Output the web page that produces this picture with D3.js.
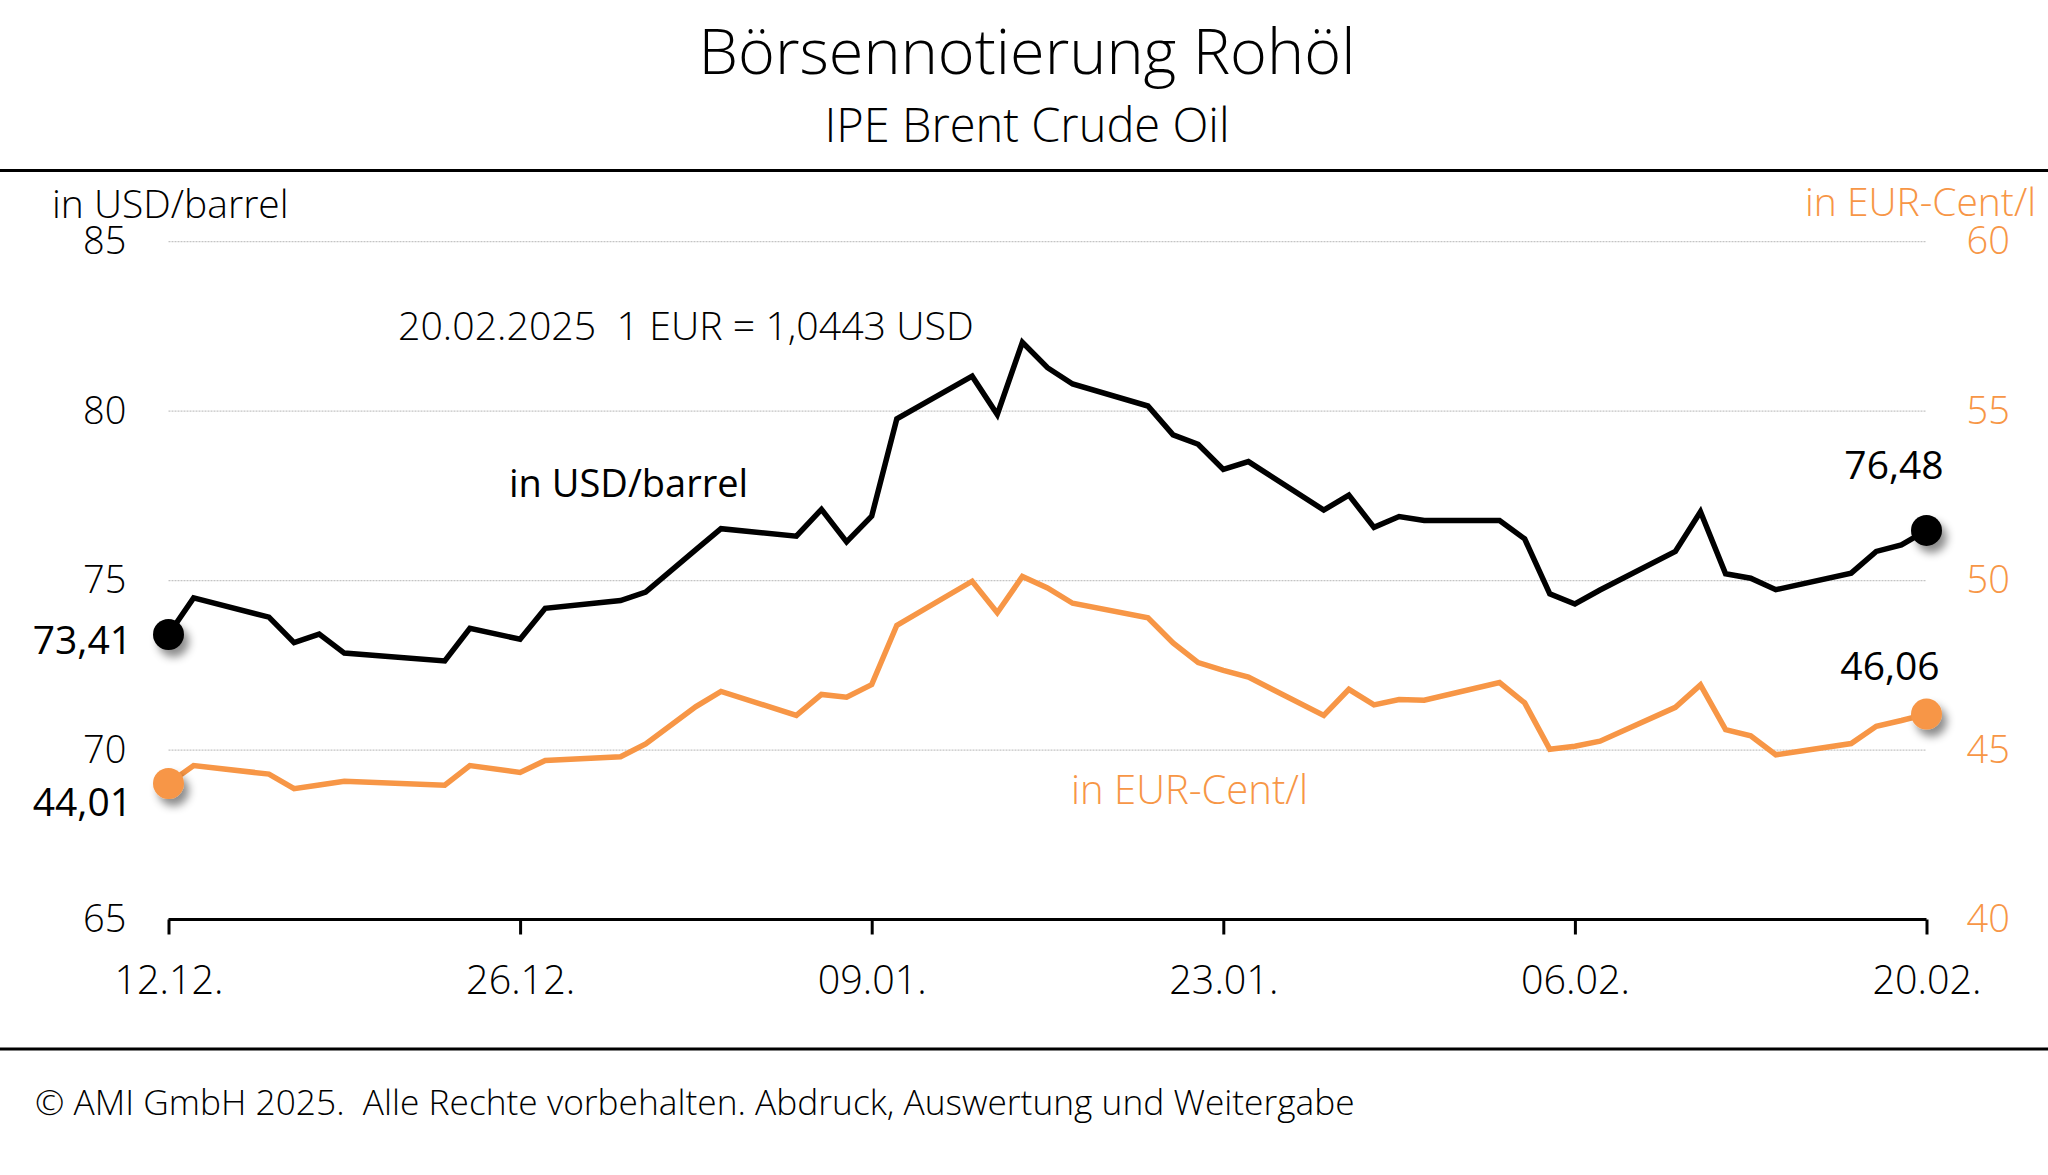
<!DOCTYPE html>
<html>
<head>
<meta charset="utf-8">
<script src="https://cdn.jsdelivr.net/npm/d3@7"></script>
<style>
  html, body { margin: 0; padding: 0; background: #fff; }
  svg { display: block; font-family: "Open Sans", "Noto Sans", sans-serif; font-weight: 300; }
</style>
</head>
<body>
<svg id="chart" width="2048" height="1175"></svg>
<script>
// ---- data ----
const dates = ["2024-12-12","2024-12-13","2024-12-16","2024-12-17","2024-12-18","2024-12-19","2024-12-23","2024-12-24","2024-12-26","2024-12-27","2024-12-30","2024-12-31",
  "2025-01-02","2025-01-03","2025-01-06","2025-01-07","2025-01-08","2025-01-09","2025-01-10","2025-01-13","2025-01-14","2025-01-15","2025-01-16","2025-01-17",
  "2025-01-20","2025-01-21","2025-01-22","2025-01-23","2025-01-24","2025-01-27","2025-01-28","2025-01-29","2025-01-30","2025-01-31",
  "2025-02-03","2025-02-04","2025-02-05","2025-02-06","2025-02-07","2025-02-10","2025-02-11","2025-02-12","2025-02-13","2025-02-14",
  "2025-02-17","2025-02-18","2025-02-19","2025-02-20"];
const usdPerBarrel = [73.41,74.49,73.92,73.17,73.42,72.86,72.63,73.59,73.27,74.18,74.41,74.66,
  75.91,76.53,76.31,77.10,76.14,76.90,79.77,81.03,79.90,82.03,81.28,80.80,
  80.15,79.30,79.02,78.28,78.51,77.08,77.52,76.57,76.89,76.77,
  76.77,76.23,74.61,74.31,74.72,75.86,77.03,75.20,75.07,74.73,
  75.22,75.86,76.05,76.48];
const eurCentPerLiter = [44.01,44.54,44.29,43.86,43.97,44.08,43.96,44.54,44.34,44.69,44.80,45.18,
  46.28,46.73,46.02,46.64,46.56,46.93,48.68,49.98,49.05,50.12,49.78,49.33,
  48.90,48.16,47.58,47.35,47.15,46.02,46.79,46.33,46.49,46.47,
  46.99,46.39,45.02,45.11,45.26,46.26,46.92,45.60,45.42,44.86,
  45.19,45.70,45.87,46.06];
const xTickDates = ["2024-12-12","2024-12-26","2025-01-09","2025-01-23","2025-02-06","2025-02-20"];
const leftTicks = [65,70,75,80,85];
const rightTicks = [40,45,50,55,60];
const title = "Börsennotierung Rohöl";
const subtitle = "IPE Brent Crude Oil";
const leftUnit = "in USD/barrel";
const rightUnit = "in EUR-Cent/l";
const rateNote = "20.02.2025\u00A0\u00A01 EUR = 1,0443 USD";
const footer = "© AMI GmbH 2025.\u00A0\u00A0Alle Rechte vorbehalten. Abdruck, Auswertung und Weitergabe";

// ---- setup ----
const W = 2048, H = 1175;
const C_BLACK = "#000000", C_ORANGE = "#F79646";
const parse = d3.utcParse("%Y-%m-%d");
const fmtNum = d3.format(".2f");
const deNum = v => fmtNum(v).replace(".", ",");
const rows = dates.map((d, i) => ({date: parse(d), usd: usdPerBarrel[i], eur: eurCentPerLiter[i]}));

const svg = d3.select("#chart");
const margin = {left: 168.5, right: W - 1926.5, top: 241.6, bottom: H - 919.5};

const x = d3.scaleUtc().domain([parse(dates[0]), parse(dates[dates.length - 1])]).range([margin.left, W - margin.right]);
const yL = d3.scaleLinear().domain([65, 85]).range([H - margin.bottom, margin.top]);
const yR = d3.scaleLinear().domain([40, 60]).range([H - margin.bottom, margin.top]);

const defs = svg.append("defs");
const f = defs.append("filter").attr("id", "shadow").attr("x", "-60%").attr("y", "-60%").attr("width", "250%").attr("height", "250%");
f.append("feDropShadow").attr("dx", 5).attr("dy", 7).attr("stdDeviation", 4).attr("flood-color", "#000").attr("flood-opacity", 0.45);

// title
svg.append("text").attr("x", 1027).attr("y", 74).attr("text-anchor", "middle")
  .attr("font-size", 63).attr("fill", "#000").text(title);
svg.append("text").attr("x", 1027).attr("y", 142).attr("text-anchor", "middle")
  .attr("font-size", 47).attr("fill", "#000").text(subtitle);

// separators
svg.append("line").attr("x1", 0).attr("x2", W).attr("y1", 170.5).attr("y2", 170.5).attr("stroke", "#000").attr("stroke-width", 3);
svg.append("line").attr("x1", 0).attr("x2", W).attr("y1", 1049).attr("y2", 1049).attr("stroke", "#000").attr("stroke-width", 3);

// gridlines
svg.append("g").selectAll("line").data(leftTicks.filter(v => v > 65)).join("line")
  .attr("x1", x.range()[0]).attr("x2", x.range()[1])
  .attr("y1", d => yL(d)).attr("y2", d => yL(d))
  .attr("stroke", "#c4c4c4").attr("stroke-width", 1.3).attr("stroke-dasharray", "2,1");

// left axis
const gL = svg.append("g").attr("transform", `translate(${margin.left},0)`)
  .call(d3.axisLeft(yL).tickValues(leftTicks).tickSize(0).tickPadding(42));
gL.select(".domain").remove();
gL.selectAll("text").attr("font-size", 38).attr("fill", "#000").attr("font-family", "Open Sans").attr("font-weight", 300);

// right axis
const gR = svg.append("g").attr("transform", `translate(${W - margin.right},0)`)
  .call(d3.axisRight(yR).tickValues(rightTicks).tickSize(0).tickPadding(40));
gR.select(".domain").remove();
gR.selectAll("text").attr("font-size", 38).attr("fill", C_ORANGE).attr("font-family", "Open Sans").attr("font-weight", 300);

// x axis
const gX = svg.append("g").attr("transform", `translate(0,${H - margin.bottom})`)
  .call(d3.axisBottom(x).tickValues(xTickDates.map(parse)).tickFormat(d3.utcFormat("%d.%m.")).tickSize(15).tickPadding(31));
gX.select(".domain").attr("stroke", "#000").attr("stroke-width", 3).attr("d", `M${x.range()[0]},0H${x.range()[1]}`);
gX.selectAll(".tick line").attr("stroke", "#000").attr("stroke-width", 3);
gX.selectAll("text").attr("font-size", 39.5).attr("fill", "#000").attr("font-family", "Open Sans").attr("font-weight", 300);

// unit labels
svg.append("text").attr("x", 52).attr("y", 218).attr("font-size", 39).attr("fill", "#000").text(leftUnit);
svg.append("text").attr("x", 2036).attr("y", 216).attr("text-anchor", "end").attr("font-size", 39).attr("fill", C_ORANGE).text(rightUnit);

// lines
const lineUsd = d3.line().x(d => x(d.date)).y(d => yL(d.usd));
const lineEur = d3.line().x(d => x(d.date)).y(d => yR(d.eur));
svg.append("path").datum(rows).attr("d", lineEur).attr("fill", "none").attr("stroke", C_ORANGE)
  .attr("stroke-width", 5.5).attr("stroke-linejoin", "miter").attr("stroke-miterlimit", 3);
svg.append("path").datum(rows).attr("d", lineUsd).attr("fill", "none").attr("stroke", C_BLACK)
  .attr("stroke-width", 5.5).attr("stroke-linejoin", "miter").attr("stroke-miterlimit", 3);

// end points
const first = rows[0], last = rows[rows.length - 1];
const pts = [
  {cx: x(first.date), cy: yL(first.usd), c: C_BLACK},
  {cx: x(last.date), cy: yL(last.usd), c: C_BLACK},
  {cx: x(first.date), cy: yR(first.eur), c: C_ORANGE},
  {cx: x(last.date), cy: yR(last.eur), c: C_ORANGE}
];
svg.append("g").selectAll("circle").data(pts).join("circle")
  .attr("cx", d => d.cx).attr("cy", d => d.cy).attr("r", 15.5).attr("fill", d => d.c).attr("filter", "url(#shadow)");

// value labels
svg.append("text").attr("x", 132).attr("y", yL(first.usd) + 20).attr("text-anchor", "end").attr("font-size", 39).attr("font-weight", 400).attr("fill", "#000").text(deNum(first.usd));
svg.append("text").attr("x", 132).attr("y", yR(first.eur) + 32).attr("text-anchor", "end").attr("font-size", 39).attr("font-weight", 400).attr("fill", "#000").text(deNum(first.eur));
svg.append("text").attr("x", 1894).attr("y", yL(last.usd) - 51).attr("text-anchor", "middle").attr("font-size", 39).attr("font-weight", 400).attr("fill", "#000").text(deNum(last.usd));
svg.append("text").attr("x", 1890).attr("y", yR(last.eur) - 34).attr("text-anchor", "middle").attr("font-size", 39).attr("font-weight", 400).attr("fill", "#000").text(deNum(last.eur));

// annotations
svg.append("text").attr("x", 398).attr("y", 340).attr("font-size", 39.3).attr("fill", "#000").text(rateNote);
svg.append("text").attr("x", 509).attr("y", 497).attr("font-size", 38).attr("font-weight", 400).attr("fill", "#000").text(leftUnit);
svg.append("text").attr("x", 1071).attr("y", 804).attr("font-size", 40).attr("fill", C_ORANGE).text(rightUnit);

// footer
svg.append("text").attr("x", 35).attr("y", 1115).attr("font-size", 35.3).attr("fill", "#000").text(footer);
</script>
</body>
</html>
